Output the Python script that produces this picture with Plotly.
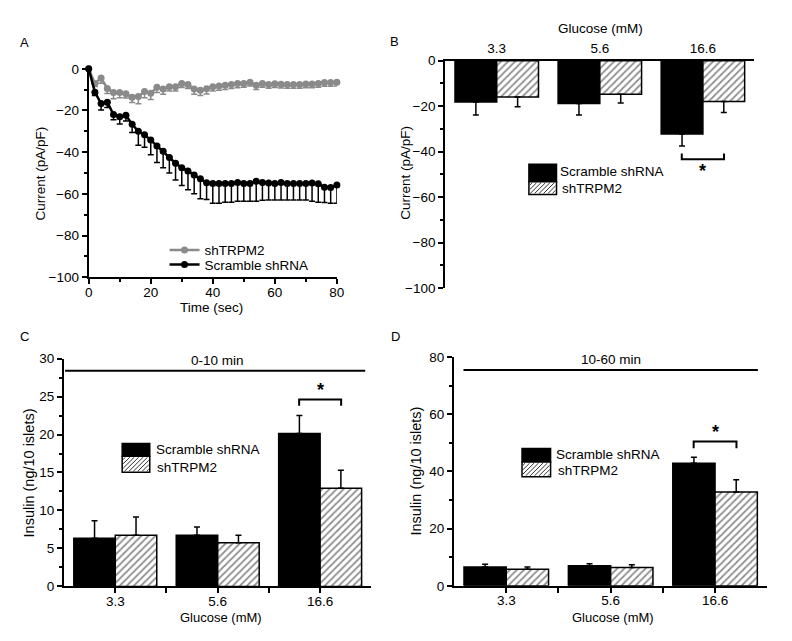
import plotly.graph_objects as go

W, H = 792, 641
FONT = "Liberation Sans, Arial, sans-serif"

# ---------------- Panel A data ----------------
time_s = [0, 2, 4, 6, 8, 10, 12, 14, 16, 18, 20, 22, 24, 26, 28, 30, 32, 34, 36, 38, 40,
          42, 44, 46, 48, 50, 52, 54, 56, 58, 60, 62, 64, 66, 68, 70, 72, 74, 76, 78, 80]
scramble_A = [0, -11.2, -16.7, -16.0, -21.9, -23.0, -22.3, -26.6, -30.0, -31.6, -34.2,
              -37.0, -39.5, -42.5, -45.3, -47.5, -49.0, -51.0, -52.8, -54.7, -55.0,
              -55.0, -55.0, -55.0, -54.5, -55.0, -55.0, -54.0, -54.6, -54.8, -55.0,
              -54.6, -55.0, -55.0, -55.0, -55.0, -54.8, -55.2, -56.8, -57.0, -55.8]
scramble_A_err = [0, 1.6, 3.0, 2.5, 2.5, 3.5, 2.7, 4.0, 6.7, 6.0, 7.0,
                  8.0, 8.0, 7.5, 8.0, 8.5, 9.0, 9.0, 9.5, 8.0, 9.5,
                  9.5, 9.0, 9.0, 9.0, 8.5, 8.5, 9.5, 8.5, 8.2, 8.0,
                  8.4, 8.0, 8.0, 8.0, 8.0, 8.7, 8.8, 7.4, 7.5, 8.7]
shTRPM2_A = [0, -7.0, -4.4, -9.4, -11.4, -11.4, -12.0, -13.7, -13.3, -10.9, -11.7,
             -8.9, -9.7, -8.6, -8.6, -7.0, -7.5, -9.7, -10.3, -9.6, -8.6,
             -8.3, -7.9, -7.5, -7.1, -7.1, -6.5, -7.9, -7.1, -7.5, -7.2,
             -7.4, -7.5, -7.5, -7.5, -7.3, -7.3, -7.1, -6.6, -6.6, -6.5]
shTRPM2_A_err = [0, 1.5, 2.5, 2.5, 3.0, 2.5, 2.0, 2.5, 3.5, 3.0, 3.0,
                 2.5, 2.5, 2.0, 2.0, 2.0, 2.0, 2.5, 2.5, 2.5, 2.0,
                 2.0, 2.0, 2.0, 2.0, 1.8, 1.8, 2.0, 1.8, 1.8, 1.8,
                 1.8, 1.8, 1.8, 1.8, 1.8, 1.8, 1.8, 1.8, 1.8, 1.8]

# ---------------- Bar panels data ----------------
glucose = ["3.3", "5.6", "16.6"]
series_names = ["Scramble shRNA", "shTRPM2"]

scramble_B = [-18.2, -18.8, -32.2]
scramble_B_err = [5.7, 5.1, 5.3]
shTRPM2_B = [-16.0, -14.8, -17.9]
shTRPM2_B_err = [4.3, 3.8, 4.9]

scramble_C = [6.34, 6.73, 20.14]
scramble_C_err = [2.32, 1.11, 2.36]
shTRPM2_C = [6.73, 5.74, 12.94]
shTRPM2_C_err = [2.4, 0.99, 2.36]

scramble_D = [6.6, 7.05, 42.8]
scramble_D_err = [0.9, 0.65, 2.1]
shTRPM2_D = [5.8, 6.37, 32.8]
shTRPM2_D_err = [0.8, 1.0, 4.3]

xpos = list(range(len(glucose)))

GREY = "#8a8a8a"
TICK = 13.5
TITLE = 13.5
LEG = 13.5


def px_x(p):
    return p / W


def px_y(p):
    return 1 - p / H


fig = go.Figure()

# ---------- Panel A ----------
fig.add_trace(go.Scatter(
    x=time_s, y=shTRPM2_A, name="shTRPM2", mode="lines+markers", showlegend=True,
    line=dict(color=GREY, width=2.5), marker=dict(color=GREY, size=7),
    error_y=dict(type="data", symmetric=False, array=[0] * len(time_s),
                 arrayminus=shTRPM2_A_err, color=GREY, thickness=1.5, width=3),
    cliponaxis=False, xaxis="x", yaxis="y", legend="legend"))
fig.add_trace(go.Scatter(
    x=time_s, y=scramble_A, name="Scramble shRNA", mode="lines+markers", showlegend=True,
    line=dict(color="black", width=2.5), marker=dict(color="black", size=7),
    error_y=dict(type="data", symmetric=False, array=[0] * len(time_s),
                 arrayminus=scramble_A_err, color="black", thickness=1.5, width=3),
    cliponaxis=False, xaxis="x", yaxis="y", legend="legend2"))

hatch = dict(shape="/", fgcolor="#222", bgcolor="white", size=5, solidity=0.35)


def add_bars(xa, ya, scr, scr_err, sh, sh_err, negative):
    zeros = [0] * len(scr)
    if negative:
        e1 = dict(type="data", symmetric=False, array=zeros, arrayminus=scr_err,
                  color="black", thickness=1.5, width=3)
        e2 = dict(type="data", symmetric=False, array=zeros, arrayminus=sh_err,
                  color="black", thickness=1.5, width=3)
    else:
        e1 = dict(type="data", symmetric=False, array=scr_err, arrayminus=zeros,
                  color="black", thickness=1.5, width=3)
        e2 = dict(type="data", symmetric=False, array=sh_err, arrayminus=zeros,
                  color="black", thickness=1.5, width=3)
    fig.add_trace(go.Bar(x=xpos, y=scr, name=series_names[0], xaxis=xa, yaxis=ya,
                         showlegend=False,
                         marker=dict(color="black", line=dict(color="black", width=1.5)),
                         error_y=e1, offsetgroup="a"))
    fig.add_trace(go.Bar(x=xpos, y=sh, name=series_names[1], xaxis=xa, yaxis=ya,
                         showlegend=False,
                         marker=dict(color="white", line=dict(color="black", width=1.5),
                                     pattern=hatch),
                         error_y=e2, offsetgroup="b"))


add_bars("x2", "y2", scramble_B, scramble_B_err, shTRPM2_B, shTRPM2_B_err, True)
add_bars("x3", "y3", scramble_C, scramble_C_err, shTRPM2_C, shTRPM2_C_err, False)
add_bars("x4", "y4", scramble_D, scramble_D_err, shTRPM2_D, shTRPM2_D_err, False)

axis_common = dict(showline=True, linecolor="black", linewidth=2, ticks="outside",
                   ticklen=5, tickwidth=1.5, tickcolor="black", showgrid=False,
                   zeroline=False, tickfont=dict(size=TICK, color="black", family=FONT))
minor = lambda d: dict(ticks="outside", ticklen=3, tickwidth=1.5, dtick=d, tickcolor="black")

cat_ticks = dict(tickmode="array", tickvals=[0, 0.5, 1, 1.5, 2],
                 ticktext=[glucose[0], "", glucose[1], "", glucose[2]])

fig.update_layout(
    width=W, height=H, margin=dict(l=0, r=0, t=0, b=0),
    paper_bgcolor="white", plot_bgcolor="white", showlegend=True,
    font=dict(family=FONT, size=TICK, color="black"),
    barmode="group", bargap=0.19, bargroupgap=0,
    xaxis=dict(domain=[px_x(86), px_x(338)], range=[0, 80], anchor="y",
               tickvals=[0, 20, 40, 60, 80], minor=minor(10), ticklabelstandoff=-3,
               **axis_common),
    yaxis=dict(domain=[px_y(276.7), px_y(63.3)], range=[-100, 0], anchor="x",
               tickvals=[-100, -80, -60, -40, -20, 0], minor=minor(10), **axis_common),
    xaxis2=dict(domain=[px_x(448), px_x(762)], range=[-0.5, 2.5], anchor="y2", side="top",
                tickmode="array", tickvals=xpos, ticktext=glucose,
                **{**axis_common, "ticks": ""}),
    yaxis2=dict(domain=[px_y(287.7), px_y(55)], range=[-100, 0], anchor="x2",
                tickvals=[-100, -80, -60, -40, -20, 0], minor=minor(10), **axis_common),
    xaxis3=dict(domain=[px_x(61), px_x(373)], range=[-0.5, 2.5], anchor="y3",
                ticklabelstandoff=-4, **cat_ticks, **axis_common),
    yaxis3=dict(domain=[px_y(593.3), px_y(360)], range=[0, 30], anchor="x3",
                tickvals=[0, 5, 10, 15, 20, 25, 30], minor=minor(2.5), **axis_common),
    xaxis4=dict(domain=[px_x(457), px_x(775)], range=[-0.5, 2.5], anchor="y4",
                ticklabelstandoff=-4, **cat_ticks, **axis_common),
    yaxis4=dict(domain=[px_y(592.7), px_y(358.3)], range=[0, 80], anchor="x4",
                tickvals=[0, 20, 40, 60, 80], minor=minor(10), **axis_common),
)

leg_common = dict(xanchor="left", yanchor="middle", bgcolor="rgba(0,0,0,0)",
                  font=dict(size=LEG, family=FONT, color="black"),
                  tracegroupgap=0, itemwidth=30)
fig.update_layout(
    legend=dict(x=px_x(163), y=px_y(249), **leg_common),
    legend2=dict(x=px_x(163), y=px_y(264), **leg_common),
)

# ---------- annotations: titles, labels ----------
ann = []
shapes = []


def txt(x, y, s, size=TITLE, angle=0, bold=False, xref="paper", yref="paper",
        xanchor="center", yanchor="middle", **kw):
    d = dict(x=x, y=y, text=("<b>%s</b>" % s) if bold else s, showarrow=False,
             xref=xref, yref=yref, textangle=angle, xanchor=xanchor, yanchor=yanchor,
             font=dict(size=size, family=FONT, color="black"))
    d.update(kw)
    ann.append(d)


# panel letters
txt(px_x(21), px_y(36), "A", size=13)
txt(px_x(397), px_y(35), "B", size=13)
txt(px_x(21), px_y(337), "C", size=13)
txt(px_x(398), px_y(337), "D", size=13)

# axis titles
txt(px_x(37), px_y(170), "Current (pA/pF)", angle=-90)
txt(px_x(211), px_y(308), "Time (sec)")
txt(px_x(407), px_y(170), "Current (pA/pF)", angle=-90)
txt(px_x(606), px_y(22), "Glucose (mM)")
txt(px_x(25), px_y(477), "Insulin (ng/10 islets)", angle=-90, size=14.5)
txt(px_x(220), px_y(625), "Glucose (mM)", size=13)
txt(px_x(418), px_y(475), "Insulin (ng/10 islets)", angle=-90, size=14.5)
txt(px_x(618), px_y(625), "Glucose (mM)", size=13)


# ---------- legend swatches for the bar panels (pixel boxes) ----------
def hatch_path(x0, x1, y0, y1, step=4.5):
    segs = []
    k = x0 + y0 + step / 2
    while k < x1 + y1:
        xa = max(x0, k - y1)
        xb = min(x1, k - y0)
        if xa < xb:
            segs.append("M %.5f,%.5f L %.5f,%.5f" % (px_x(xa), px_y(k - xa), px_x(xb), px_y(k - xb)))
        k += step
    return " ".join(segs)


def bar_legend(bx0, bx1, by0, by_mid, by1, tx, ty1, ty2):
    shapes.append(dict(type="rect", xref="paper", yref="paper",
                       x0=px_x(bx0), x1=px_x(bx1), y0=px_y(by_mid), y1=px_y(by0),
                       fillcolor="black", line=dict(color="black", width=1.5)))
    shapes.append(dict(type="rect", xref="paper", yref="paper",
                       x0=px_x(bx0), x1=px_x(bx1), y0=px_y(by1), y1=px_y(by_mid),
                       fillcolor="white", line=dict(color="black", width=1.5)))
    shapes.append(dict(type="path", xref="paper", yref="paper",
                       path=hatch_path(bx0 + 1, bx1 - 1, by_mid + 1, by1 - 1),
                       line=dict(color="#333", width=1)))
    txt(px_x(tx), px_y(ty1), series_names[0], size=LEG, xanchor="left")
    txt(px_x(tx + 1.5), px_y(ty2), series_names[1], size=LEG, xanchor="left")


bar_legend(533, 561, 161, 179, 192, 563, 168.5, 186)
bar_legend(120, 148, 447, 460, 476.5, 152, 453.5, 471.5)
bar_legend(526, 555, 452, 466, 481, 558.5, 458, 475)

# period labels and lines
period_C = dict(y=28.4, x0=-0.49, x1=2.44, label="0-10 min")
period_D = dict(y=75.4, x0=-0.41, x1=2.41, label="10-60 min")
for p, xr, yr in [(period_C, "x3", "y3"), (period_D, "x4", "y4")]:
    shapes.append(dict(type="line", xref=xr, yref=yr, x0=p["x0"], x1=p["x1"],
                       y0=p["y"], y1=p["y"], line=dict(color="black", width=2)))
    txt(1.0, p["y"], p["label"], xref=xr, yref=yr, yanchor="bottom", yshift=1, size=13.5)

# significance brackets
brackets = [
    ("x2", "y2", -40.8, -43.4, -48.6),
    ("x3", "y3", 23.8, 24.6, 25.9),
    ("x4", "y4", 48.1, 50.4, 53.8),
]
for xr, yr, y_end, y_bar, y_star in brackets:
    x0, x1 = 1.795, 2.205
    shapes.append(dict(type="path", xref=xr, yref=yr,
                       path="M %f,%f L %f,%f L %f,%f L %f,%f" % (x0, y_end, x0, y_bar, x1, y_bar, x1, y_end),
                       line=dict(color="black", width=2)))
    txt(2.0, y_star, "*", size=18, bold=True, xref=xr, yref=yr)

fig.update_layout(annotations=ann, shapes=shapes)

fig.write_html("out.html", config={"displayModeBar": False},
               post_script="document.body.style.margin='0px';document.body.style.overflow='hidden';")
